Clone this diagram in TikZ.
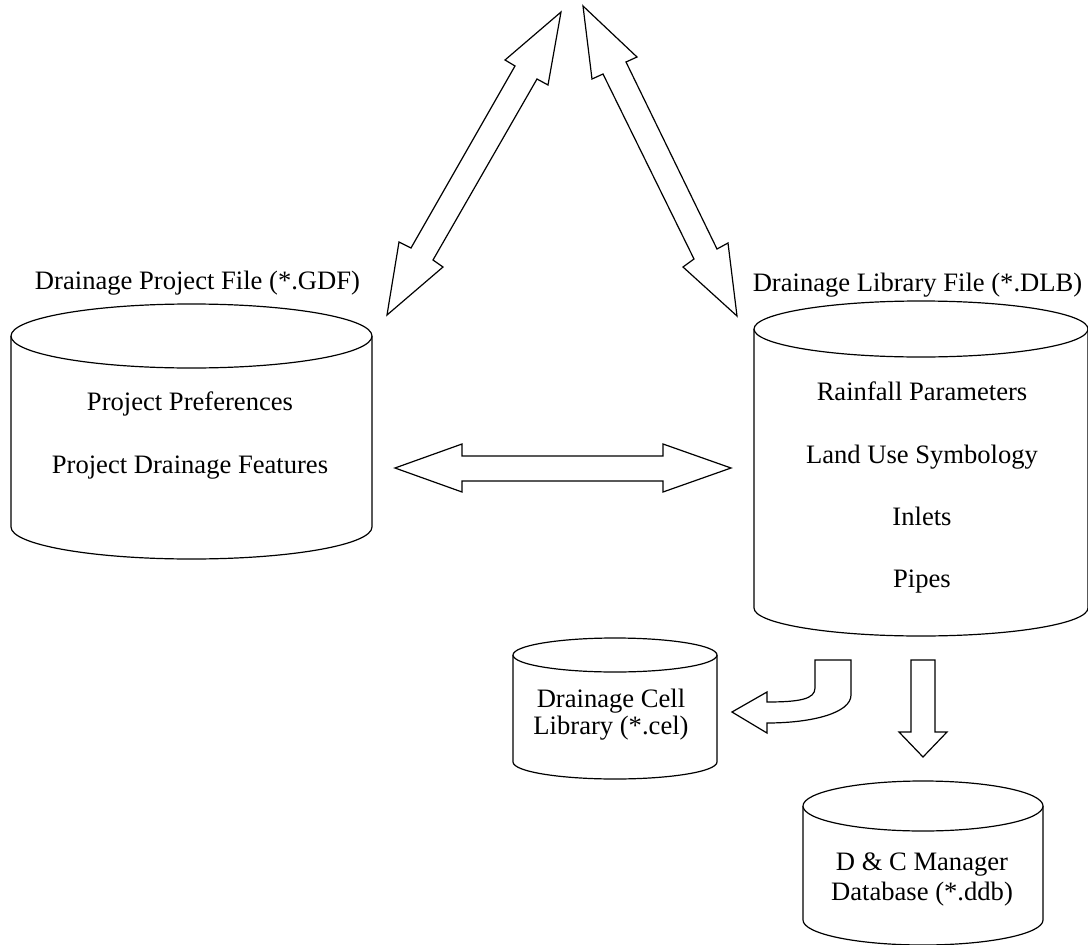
\documentclass[tikz,border=0pt]{standalone}
\usepackage{fontspec}
\setmainfont{Liberation Serif}
\begin{document}
\begin{tikzpicture}[x=1pt,y=-1pt,
  outl/.style={draw=black,line width=1.2pt,line join=miter,fill=white},
  lbl/.style={anchor=base,inner sep=0pt,font=\fontsize{26.6}{30}\selectfont}]
\useasboundingbox (0,0) rectangle (1088,945);
% cylinder macro: cx, top cy, bottom cy, rx, ry
\newcommand{\drawcyl}[5]{%
  \draw[outl] (#1-#4,#2) -- (#1-#4,#3) arc (180:0:#4 and #5) -- (#1+#4,#2);
  \draw[outl] (#1,#2) ellipse (#4 and #5);}
% cylinders
\drawcyl{191.5}{336}{527}{180.5}{32}
\drawcyl{921}{329}{608}{167}{28}
\drawcyl{615}{655}{762}{102}{17}
\drawcyl{923}{806}{920}{120}{25}
% labels
\node[lbl] (gdf) at (197.5,289) {Drainage Project File (*.GDF)};
\node[lbl] (dlb) at (917.5,291) {Drainage Library File (*.DLB)};
\node[lbl] (pp) at (190,410) {Project Preferences};
\node[lbl] (pdf) at (190,473) {Project Drainage Features};
\node[lbl] (rp) at (922,400) {Rainfall Parameters};
\node[lbl] (lus) at (922,463) {Land Use Symbology};
\node[lbl] (inl) at (922,525) {Inlets};
\node[lbl] (pip) at (922,587) {Pipes};
\node[lbl] (cel1) at (611,707) {Drainage Cell};
\node[lbl] (cel2) at (611,734) {Library (*.cel)};
\node[lbl] (ddb1) at (922,870) {D \& C Manager};
\node[lbl] (ddb2) at (922,900) {Database (*.ddb)};
% block arrows
\draw[outl] (561,12) -- (505,60) -- (515,66) -- (411,248) -- (399,242) -- (387,315)
  -- (443,267) -- (433,260) -- (537,79) -- (548,85) -- cycle;
\draw[outl] (583,6) -- (637,57) -- (626,62) -- (717,249) -- (728,243) -- (737,316)
  -- (683,267) -- (694,259) -- (603,74) -- (592,79) -- cycle;
\draw[outl] (395,468) -- (462,444) -- (462,456) -- (663,456) -- (663,444) -- (731,468)
  -- (663,492) -- (663,481) -- (462,481) -- (462,492) -- cycle;
\draw[outl] (815,660) -- (851,660) -- (851,695) .. controls (851,713) and (812,723) .. (767,723)
  -- (767,733) -- (732,712) -- (767,692) -- (767,702)
  .. controls (800,702) and (815,699) .. (815,688) -- cycle;
\draw[outl] (911,660) -- (935,660) -- (935,732) -- (947,732) -- (923,757) -- (899,732)
  -- (911,732) -- cycle;
\end{tikzpicture}
\end{document}
